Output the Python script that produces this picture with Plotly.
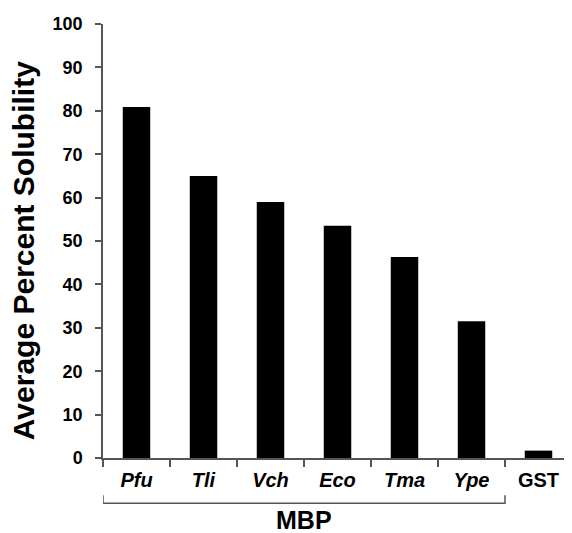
import plotly.graph_objects as go

categories = ["Pfu", "Tli", "Vch", "Eco", "Tma", "Ype", "GST"]
tick_labels = ["<b><i>Pfu</i></b>", "<b><i>Tli</i></b>", "<b><i>Vch</i></b>",
               "<b><i>Eco</i></b>", "<b><i>Tma</i></b>", "<b><i>Ype</i></b>", "<b>GST</b>"]
solubility = [80.9, 65.0, 59.0, 53.5, 46.3, 31.5, 1.7]
y_ticks = [0, 10, 20, 30, 40, 50, 60, 70, 80, 90, 100]

FONT = "Arial, Liberation Sans, Helvetica, sans-serif"
AX = "#555555"

fig = go.Figure(go.Bar(x=categories, y=solubility, marker=dict(color="black", line=dict(width=0)),
                       width=0.41))

# page body has an 8px default margin, so the figure is offset by 8px
fig.update_layout(
    width=564, height=525,
    margin=dict(l=95, r=0, t=16, b=75),
    plot_bgcolor="white", paper_bgcolor="white",
    font=dict(family=FONT, color="black"),
    showlegend=False,
)
fig.update_xaxes(
    type="category", range=[-0.5, 6.5],
    tickmode="array", tickvals=categories, ticktext=tick_labels,
    tickson="boundaries", ticks="outside", ticklen=7, tickwidth=1.5, tickcolor=AX,
    showline=True, linecolor=AX, linewidth=1.5, showgrid=False,
    tickfont=dict(size=20, family=FONT, color="black"),
    ticklabelstandoff=3,
)
fig.update_yaxes(
    range=[0, 100], tickmode="array", tickvals=y_ticks,
    ticktext=[f"<b>{v}</b>" for v in y_ticks],
    ticks="outside", ticklen=6, tickwidth=1.5, tickcolor=AX,
    showline=True, linecolor=AX, linewidth=1.5, showgrid=False, zeroline=False,
    tickfont=dict(size=18, family=FONT, color="black"),
    ticklabelstandoff=9,
)

# y-axis title
fig.add_annotation(text="<b>Average Percent Solubility</b>", xref="paper", yref="paper",
                   x=-0.168, y=0.477, xanchor="center", yanchor="middle", textangle=-90,
                   showarrow=False, font=dict(size=30, family=FONT, color="black"))

# MBP bracket under the first six categories
fig.add_shape(type="path", xref="x", yref="paper",
              path="M -0.5,-0.086 L -0.5,-0.1045 L 5.5,-0.1045 L 5.5,-0.086",
              line=dict(color=AX, width=1.5))
fig.add_annotation(text="<b>MBP</b>", x=2.5, xref="x", y=-0.143, yref="paper",
                   yanchor="middle", showarrow=False, font=dict(size=25, family=FONT, color="black"))

fig.write_html("out.html")
